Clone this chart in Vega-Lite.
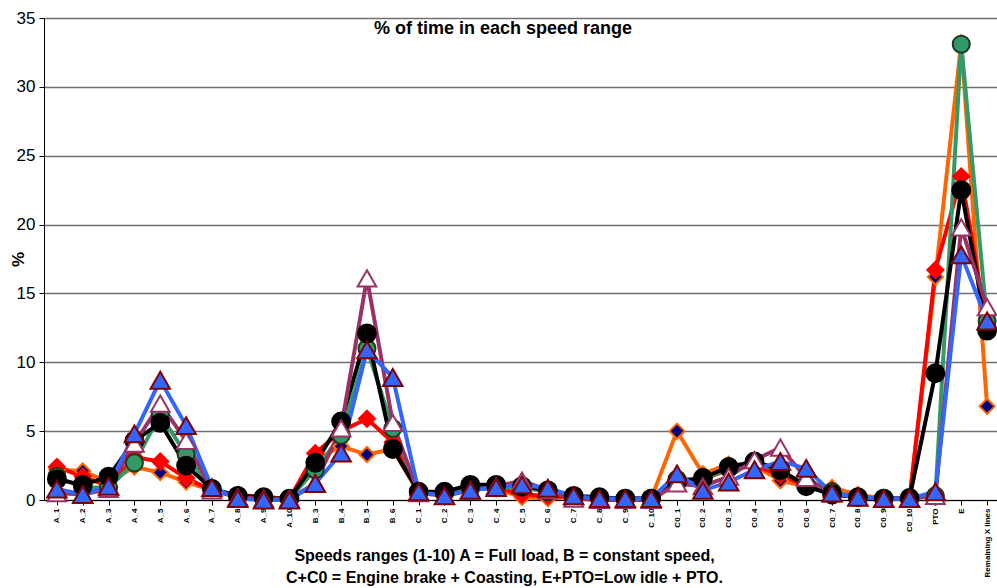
{
  "$schema": "https://vega.github.io/schema/vega-lite/v6.json",
  "width": 956,
  "height": 482,
  "autosize": "none",
  "padding": {"left": 44, "top": 18, "right": 0, "bottom": 88},
  "background": "white",
  "config": {
    "view": {"stroke": null},
    "font": "Liberation Sans"
  },
  "title": {
    "text": "% of time in each speed range",
    "font": "Liberation Sans",
    "fontSize": 18,
    "fontWeight": "bold",
    "color": "black",
    "anchor": "middle",
    "frame": "group",
    "baseline": "top",
    "offset": 0,
    "dy": 29,
    "dx": -19
  },
  "data": {
    "values": [
      {"range":"A_1","series":"Truck 1","pct":2.2},{"range":"A_1","series":"Truck 2","pct":2.4},{"range":"A_1","series":"Truck 3","pct":1.7},{"range":"A_1","series":"Truck 4","pct":1.5},{"range":"A_1","series":"Truck 5","pct":0.5},{"range":"A_1","series":"Truck 6","pct":0.8},
      {"range":"A_2","series":"Truck 1","pct":2.1},{"range":"A_2","series":"Truck 2","pct":1.7},{"range":"A_2","series":"Truck 3","pct":0.9},{"range":"A_2","series":"Truck 4","pct":1.1},{"range":"A_2","series":"Truck 5","pct":0.4},{"range":"A_2","series":"Truck 6","pct":0.4},
      {"range":"A_3","series":"Truck 1","pct":1.3},{"range":"A_3","series":"Truck 2","pct":1.0},{"range":"A_3","series":"Truck 3","pct":0.9},{"range":"A_3","series":"Truck 4","pct":1.7},{"range":"A_3","series":"Truck 5","pct":0.8},{"range":"A_3","series":"Truck 6","pct":1.0},
      {"range":"A_4","series":"Truck 1","pct":2.4},{"range":"A_4","series":"Truck 2","pct":3.1},{"range":"A_4","series":"Truck 3","pct":2.7},{"range":"A_4","series":"Truck 4","pct":4.3},{"range":"A_4","series":"Truck 5","pct":4.1},{"range":"A_4","series":"Truck 6","pct":4.8},
      {"range":"A_5","series":"Truck 1","pct":2.0},{"range":"A_5","series":"Truck 2","pct":2.8},{"range":"A_5","series":"Truck 3","pct":6.2},{"range":"A_5","series":"Truck 4","pct":5.6},{"range":"A_5","series":"Truck 5","pct":7.0},{"range":"A_5","series":"Truck 6","pct":8.7},
      {"range":"A_6","series":"Truck 1","pct":1.3},{"range":"A_6","series":"Truck 2","pct":1.6},{"range":"A_6","series":"Truck 3","pct":3.3},{"range":"A_6","series":"Truck 4","pct":2.5},{"range":"A_6","series":"Truck 5","pct":4.3},{"range":"A_6","series":"Truck 6","pct":5.4},
      {"range":"A_7","series":"Truck 1","pct":0.7},{"range":"A_7","series":"Truck 2","pct":0.7},{"range":"A_7","series":"Truck 3","pct":0.8},{"range":"A_7","series":"Truck 4","pct":0.8},{"range":"A_7","series":"Truck 5","pct":0.7},{"range":"A_7","series":"Truck 6","pct":0.9},
      {"range":"A_8","series":"Truck 1","pct":0.4},{"range":"A_8","series":"Truck 2","pct":0.3},{"range":"A_8","series":"Truck 3","pct":0.3},{"range":"A_8","series":"Truck 4","pct":0.3},{"range":"A_8","series":"Truck 5","pct":0.2},{"range":"A_8","series":"Truck 6","pct":0.1},
      {"range":"A_9","series":"Truck 1","pct":0.2},{"range":"A_9","series":"Truck 2","pct":0.2},{"range":"A_9","series":"Truck 3","pct":0.1},{"range":"A_9","series":"Truck 4","pct":0.2},{"range":"A_9","series":"Truck 5","pct":0.1},{"range":"A_9","series":"Truck 6","pct":0.0},
      {"range":"A_10","series":"Truck 1","pct":0.1},{"range":"A_10","series":"Truck 2","pct":0.1},{"range":"A_10","series":"Truck 3","pct":0.1},{"range":"A_10","series":"Truck 4","pct":0.1},{"range":"A_10","series":"Truck 5","pct":0.1},{"range":"A_10","series":"Truck 6","pct":0.0},
      {"range":"B_3","series":"Truck 1","pct":2.9},{"range":"B_3","series":"Truck 2","pct":3.4},{"range":"B_3","series":"Truck 3","pct":2.2},{"range":"B_3","series":"Truck 4","pct":2.7},{"range":"B_3","series":"Truck 5","pct":1.2},{"range":"B_3","series":"Truck 6","pct":1.2},
      {"range":"B_4","series":"Truck 1","pct":3.9},{"range":"B_4","series":"Truck 2","pct":5.0},{"range":"B_4","series":"Truck 3","pct":4.7},{"range":"B_4","series":"Truck 4","pct":5.7},{"range":"B_4","series":"Truck 5","pct":5.2},{"range":"B_4","series":"Truck 6","pct":3.4},
      {"range":"B_5","series":"Truck 1","pct":3.3},{"range":"B_5","series":"Truck 2","pct":5.9},{"range":"B_5","series":"Truck 3","pct":11.0},{"range":"B_5","series":"Truck 4","pct":12.1},{"range":"B_5","series":"Truck 5","pct":16.1},{"range":"B_5","series":"Truck 6","pct":10.9},
      {"range":"B_6","series":"Truck 1","pct":3.7},{"range":"B_6","series":"Truck 2","pct":4.2},{"range":"B_6","series":"Truck 3","pct":5.2},{"range":"B_6","series":"Truck 4","pct":3.7},{"range":"B_6","series":"Truck 5","pct":5.6},{"range":"B_6","series":"Truck 6","pct":8.9},
      {"range":"C_1","series":"Truck 1","pct":0.5},{"range":"C_1","series":"Truck 2","pct":0.6},{"range":"C_1","series":"Truck 3","pct":0.6},{"range":"C_1","series":"Truck 4","pct":0.6},{"range":"C_1","series":"Truck 5","pct":0.5},{"range":"C_1","series":"Truck 6","pct":0.6},
      {"range":"C_2","series":"Truck 1","pct":0.4},{"range":"C_2","series":"Truck 2","pct":0.5},{"range":"C_2","series":"Truck 3","pct":0.5},{"range":"C_2","series":"Truck 4","pct":0.6},{"range":"C_2","series":"Truck 5","pct":0.3},{"range":"C_2","series":"Truck 6","pct":0.3},
      {"range":"C_3","series":"Truck 1","pct":0.8},{"range":"C_3","series":"Truck 2","pct":0.9},{"range":"C_3","series":"Truck 3","pct":0.8},{"range":"C_3","series":"Truck 4","pct":1.1},{"range":"C_3","series":"Truck 5","pct":0.7},{"range":"C_3","series":"Truck 6","pct":0.7},
      {"range":"C_4","series":"Truck 1","pct":0.8},{"range":"C_4","series":"Truck 2","pct":0.9},{"range":"C_4","series":"Truck 3","pct":0.9},{"range":"C_4","series":"Truck 4","pct":1.1},{"range":"C_4","series":"Truck 5","pct":1.0},{"range":"C_4","series":"Truck 6","pct":0.9},
      {"range":"C_5","series":"Truck 1","pct":0.2},{"range":"C_5","series":"Truck 2","pct":0.4},{"range":"C_5","series":"Truck 3","pct":0.9},{"range":"C_5","series":"Truck 4","pct":1.0},{"range":"C_5","series":"Truck 5","pct":1.4},{"range":"C_5","series":"Truck 6","pct":1.1},
      {"range":"C_6","series":"Truck 1","pct":0.1},{"range":"C_6","series":"Truck 2","pct":0.3},{"range":"C_6","series":"Truck 3","pct":0.6},{"range":"C_6","series":"Truck 4","pct":0.7},{"range":"C_6","series":"Truck 5","pct":0.7},{"range":"C_6","series":"Truck 6","pct":0.85},
      {"range":"C_7","series":"Truck 1","pct":0.2},{"range":"C_7","series":"Truck 2","pct":0.2},{"range":"C_7","series":"Truck 3","pct":0.2},{"range":"C_7","series":"Truck 4","pct":0.3},{"range":"C_7","series":"Truck 5","pct":0.1},{"range":"C_7","series":"Truck 6","pct":0.3},
      {"range":"C_8","series":"Truck 1","pct":0.1},{"range":"C_8","series":"Truck 2","pct":0.1},{"range":"C_8","series":"Truck 3","pct":0.1},{"range":"C_8","series":"Truck 4","pct":0.2},{"range":"C_8","series":"Truck 5","pct":0.0},{"range":"C_8","series":"Truck 6","pct":0.1},
      {"range":"C_9","series":"Truck 1","pct":0.1},{"range":"C_9","series":"Truck 2","pct":0.1},{"range":"C_9","series":"Truck 3","pct":0.1},{"range":"C_9","series":"Truck 4","pct":0.1},{"range":"C_9","series":"Truck 5","pct":0.0},{"range":"C_9","series":"Truck 6","pct":0.1},
      {"range":"C_10","series":"Truck 1","pct":0.1},{"range":"C_10","series":"Truck 2","pct":0.1},{"range":"C_10","series":"Truck 3","pct":0.1},{"range":"C_10","series":"Truck 4","pct":0.1},{"range":"C_10","series":"Truck 5","pct":0.0},{"range":"C_10","series":"Truck 6","pct":0.1},
      {"range":"C0_1","series":"Truck 1","pct":5.0},{"range":"C0_1","series":"Truck 2","pct":1.5},{"range":"C0_1","series":"Truck 3","pct":1.5},{"range":"C0_1","series":"Truck 4","pct":1.3},{"range":"C0_1","series":"Truck 5","pct":1.2},{"range":"C0_1","series":"Truck 6","pct":1.9},
      {"range":"C0_2","series":"Truck 1","pct":1.9},{"range":"C0_2","series":"Truck 2","pct":1.5},{"range":"C0_2","series":"Truck 3","pct":1.5},{"range":"C0_2","series":"Truck 4","pct":1.6},{"range":"C0_2","series":"Truck 5","pct":1.0},{"range":"C0_2","series":"Truck 6","pct":0.7},
      {"range":"C0_3","series":"Truck 1","pct":2.6},{"range":"C0_3","series":"Truck 2","pct":2.2},{"range":"C0_3","series":"Truck 3","pct":2.3},{"range":"C0_3","series":"Truck 4","pct":2.4},{"range":"C0_3","series":"Truck 5","pct":1.7},{"range":"C0_3","series":"Truck 6","pct":1.3},
      {"range":"C0_4","series":"Truck 1","pct":2.5},{"range":"C0_4","series":"Truck 2","pct":2.5},{"range":"C0_4","series":"Truck 3","pct":2.7},{"range":"C0_4","series":"Truck 4","pct":2.8},{"range":"C0_4","series":"Truck 5","pct":2.9},{"range":"C0_4","series":"Truck 6","pct":2.2},
      {"range":"C0_5","series":"Truck 1","pct":1.4},{"range":"C0_5","series":"Truck 2","pct":1.8},{"range":"C0_5","series":"Truck 3","pct":2.1},{"range":"C0_5","series":"Truck 4","pct":2.2},{"range":"C0_5","series":"Truck 5","pct":3.8},{"range":"C0_5","series":"Truck 6","pct":2.8},
      {"range":"C0_6","series":"Truck 1","pct":1.0},{"range":"C0_6","series":"Truck 2","pct":1.0},{"range":"C0_6","series":"Truck 3","pct":1.1},{"range":"C0_6","series":"Truck 4","pct":1.0},{"range":"C0_6","series":"Truck 5","pct":1.6},{"range":"C0_6","series":"Truck 6","pct":2.3},
      {"range":"C0_7","series":"Truck 1","pct":0.9},{"range":"C0_7","series":"Truck 2","pct":0.5},{"range":"C0_7","series":"Truck 3","pct":0.6},{"range":"C0_7","series":"Truck 4","pct":0.4},{"range":"C0_7","series":"Truck 5","pct":0.5},{"range":"C0_7","series":"Truck 6","pct":0.5},
      {"range":"C0_8","series":"Truck 1","pct":0.4},{"range":"C0_8","series":"Truck 2","pct":0.2},{"range":"C0_8","series":"Truck 3","pct":0.2},{"range":"C0_8","series":"Truck 4","pct":0.2},{"range":"C0_8","series":"Truck 5","pct":0.2},{"range":"C0_8","series":"Truck 6","pct":0.2},
      {"range":"C0_9","series":"Truck 1","pct":0.1},{"range":"C0_9","series":"Truck 2","pct":0.1},{"range":"C0_9","series":"Truck 3","pct":0.1},{"range":"C0_9","series":"Truck 4","pct":0.1},{"range":"C0_9","series":"Truck 5","pct":0.1},{"range":"C0_9","series":"Truck 6","pct":0.1},
      {"range":"C0_10","series":"Truck 1","pct":0.1},{"range":"C0_10","series":"Truck 2","pct":0.1},{"range":"C0_10","series":"Truck 3","pct":0.1},{"range":"C0_10","series":"Truck 4","pct":0.15},{"range":"C0_10","series":"Truck 5","pct":0.1},{"range":"C0_10","series":"Truck 6","pct":0.1},
      {"range":"PTO","series":"Truck 1","pct":16.2},{"range":"PTO","series":"Truck 2","pct":16.7},{"range":"PTO","series":"Truck 3","pct":0.3},{"range":"PTO","series":"Truck 4","pct":9.2},{"range":"PTO","series":"Truck 5","pct":0.3},{"range":"PTO","series":"Truck 6","pct":0.6},
      {"range":"E","series":"Truck 1","pct":33.2},{"range":"E","series":"Truck 2","pct":23.5},{"range":"E","series":"Truck 3","pct":33.1},{"range":"E","series":"Truck 4","pct":22.5},{"range":"E","series":"Truck 5","pct":19.8},{"range":"E","series":"Truck 6","pct":17.8},
      {"range":"Remaining X lines","series":"Truck 1","pct":6.8},{"range":"Remaining X lines","series":"Truck 2","pct":12.6},{"range":"Remaining X lines","series":"Truck 3","pct":13.0},{"range":"Remaining X lines","series":"Truck 4","pct":12.3},{"range":"Remaining X lines","series":"Truck 5","pct":14.0},{"range":"Remaining X lines","series":"Truck 6","pct":13.0}
    ]
  },
  "encoding": {
    "x": {
      "field": "range",
      "type": "ordinal",
      "sort": null,
      "scale": {"type": "point", "padding": 0.5},
      "axis": {
        "title": ["Speeds ranges (1-10) A = Full load, B = constant speed,", "C+C0 = Engine brake + Coasting, E+PTO=Low idle + PTO."],
        "titleFont": "Liberation Sans",
        "titleFontSize": 16,
        "titleFontWeight": "bold",
        "titleColor": "black",
        "titleX": 460,
        "titleY": 47,
        "titleBaseline": "top",
        "titleLineHeight": 22,
        "labelAngle": 270,
        "labelFont": "Liberation Sans",
        "labelFontSize": 8,
        "labelFontWeight": "bold",
        "labelColor": "black",
        "labelPadding": 3,
        "labelOverlap": false,
        "domainColor": "black",
        "tickColor": "black",
        "tickSize": 5,
        "grid": false
      }
    },
    "y": {
      "field": "pct",
      "type": "quantitative",
      "scale": {"domain": [0, 35], "nice": false},
      "axis": {
        "values": [0, 5, 10, 15, 20, 25, 30, 35],
        "title": "%",
        "titleFont": "Liberation Sans",
        "titleFontSize": 17,
        "titleFontWeight": "bold",
        "titleColor": "black",
        "titleAngle": 270,
        "titleX": -26,
        "titleY": 241,
        "titleAlign": "center",
        "titleBaseline": "middle",
        "labelFont": "Liberation Sans",
        "labelFontSize": 17,
        "labelColor": "black",
        "labelPadding": 4,
        "domainColor": "black",
        "tickColor": "black",
        "tickSize": 5,
        "grid": true,
        "gridColor": "#707070",
        "gridWidth": 1.5
      }
    }
  },
  "layer": [
    {
      "mark": {"type": "line", "strokeJoin": "round"},
      "encoding": {
        "stroke": {
          "field": "series",
          "type": "nominal",
          "scale": {
            "domain": ["Truck 1", "Truck 2", "Truck 3", "Truck 4", "Truck 5", "Truck 6"],
            "range": ["#ff6600", "#ff0000", "#339966", "#000000", "#993366", "#3366ff"]
          },
          "legend": null
        },
        "strokeWidth": {
          "field": "series",
          "type": "nominal",
          "scale": {
            "domain": ["Truck 1", "Truck 2", "Truck 3", "Truck 4", "Truck 5", "Truck 6"],
            "range": [4, 4, 4.5, 5.5, 4, 4]
          },
          "legend": null
        }
      }
    },
    {
      "mark": {"type": "point", "filled": true, "opacity": 1, "strokeWidth": 2},
      "encoding": {
        "shape": {
          "field": "series",
          "type": "nominal",
          "scale": {
            "domain": ["Truck 1", "Truck 2", "Truck 3", "Truck 4", "Truck 5", "Truck 6"],
            "range": ["diamond", "diamond", "circle", "circle", "triangle-up", "triangle-up"]
          },
          "legend": null
        },
        "fill": {
          "field": "series",
          "type": "nominal",
          "scale": {
            "domain": ["Truck 1", "Truck 2", "Truck 3", "Truck 4", "Truck 5", "Truck 6"],
            "range": ["#000080", "#ff0000", "#339966", "#000000", "#ffffff", "#3366ff"]
          },
          "legend": null
        },
        "stroke": {
          "field": "series",
          "type": "nominal",
          "scale": {
            "domain": ["Truck 1", "Truck 2", "Truck 3", "Truck 4", "Truck 5", "Truck 6"],
            "range": ["#ff6600", "#ff0000", "#1a3a22", "#000000", "#993366", "#800000"]
          },
          "legend": null
        },
        "size": {
          "field": "series",
          "type": "nominal",
          "scale": {
            "domain": ["Truck 1", "Truck 2", "Truck 3", "Truck 4", "Truck 5", "Truck 6"],
            "range": [230, 380, 380, 470, 480, 560]
          },
          "legend": null
        }
      }
    }
  ],
  "resolve": {"scale": {"stroke": "independent"}}
}
